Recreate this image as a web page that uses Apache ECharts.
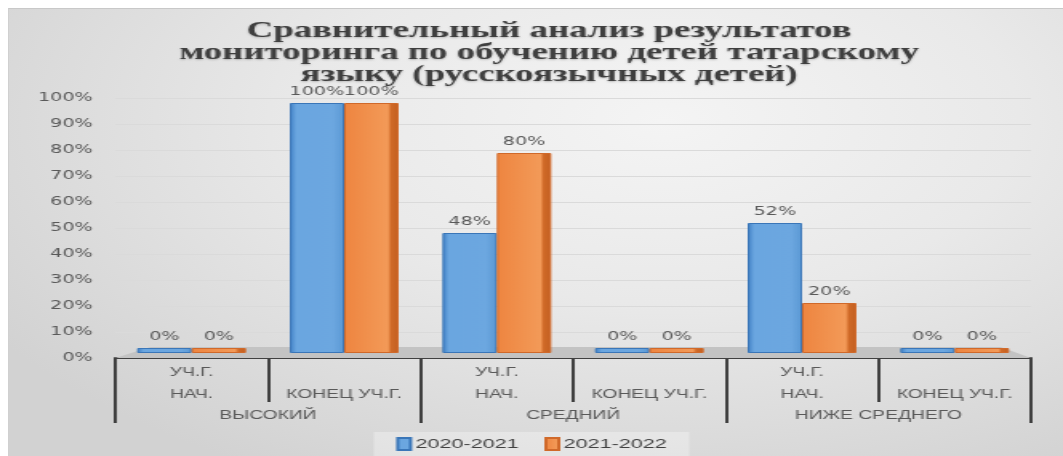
<!DOCTYPE html>
<html><head><meta charset="utf-8">
<script src="https://cdn.jsdelivr.net/npm/echarts/dist/echarts.min.js"></script>
<style>
html,body{margin:0;padding:0;background:#fff;width:1063px;height:456px;overflow:hidden;}
#panel{position:absolute;left:8px;top:8px;width:1055px;height:448px;
  background:radial-gradient(ellipse 75% 90% at 62% 25%, #f4f4f4 0%, #e9e9e9 45%, #d2d2d2 100%);
  border-top:1px solid #c8c8c8;border-left:1px solid #d0d0d0;}
#chart{position:absolute;left:0;top:0;width:664px;height:456px;transform:scaleX(1.6009);transform-origin:0 0;}
</style></head>
<body>
<div id="panel"></div>
<div id="chart"></div>
<script>
const titleText = 'Сравнительный анализ результатов\nмониторинга по обучению детей татарскому\nязыку (русскоязычных детей)';
const subCategories = ['УЧ.Г. НАЧ.', 'КОНЕЦ УЧ.Г.', 'УЧ.Г. НАЧ.', 'КОНЕЦ УЧ.Г.', 'УЧ.Г. НАЧ.', 'КОНЕЦ УЧ.Г.'];
const groups = ['ВЫСОКИЙ', 'СРЕДНИЙ', 'НИЖЕ СРЕДНЕГО'];
const seriesNames = ['2020-2021', '2021-2022'];
const values2020 = [0, 100, 48, 0, 52, 0];
const values2021 = [0, 100, 80, 0, 20, 0];

const chart = echarts.init(document.getElementById('chart'), null, {renderer: 'canvas'});
const G = {left: 72, right: 20};
const labelFont = 'DejaVu Sans';
const catFont = 'Liberation Sans';

function subLabel(v, i) {
  const s = subCategories[i];
  if (s.indexOf('НАЧ.') >= 0) return 'УЧ.Г.\nНАЧ.';
  return '\n' + s;
}

const option = {
  animation: false,
  title: {
    text: titleText, left: 338, top: 15,
    textAlign: 'center',
    textStyle: {fontFamily: 'Liberation Serif', fontWeight: 'bold', fontSize: 23, lineHeight: 22, color: '#3f3f3f',
      align: 'center',
      textShadowColor: 'rgba(0,0,0,0.22)', textShadowBlur: 2, textShadowOffsetY: 1}
  },
  legend: {
    data: seriesNames, top: 432, left: 'center',
    itemWidth: 8, itemHeight: 12, itemGap: 16, icon: 'rect',
    padding: [5, 14], backgroundColor: 'rgba(255,255,255,0.3)',
    textStyle: {fontFamily: catFont, fontSize: 13.5, color: '#404040', padding: [0, 0, 0, -2]}
  },
  grid: [
    {left: G.left, right: G.right, top: 98, bottom: 98},
    {left: G.left, right: G.right, top: 103, bottom: 103}
  ],
  xAxis: [
    {type: 'category', gridIndex: 0, data: subCategories, position: 'bottom',
      axisLine: {lineStyle: {color: '#404040', width: 2}},
      axisTick: {show: true, interval: 0, length: 44, lineStyle: {color: '#404040', width: 2}},
      axisLabel: {interval: 0, margin: 4, formatter: subLabel, lineHeight: 22, fontFamily: catFont, fontSize: 12, color: '#595959'}},
    {type: 'category', gridIndex: 0, data: groups, position: 'bottom',
      axisLine: {show: false},
      axisTick: {show: true, interval: 0, length: 65, lineStyle: {color: '#404040', width: 2}},
      axisLabel: {interval: 0, margin: 47, lineHeight: 22, fontFamily: catFont, fontSize: 12, color: '#595959'}},
    {type: 'category', gridIndex: 1, data: subCategories, show: false}
  ],
  yAxis: [
    {type: 'value', gridIndex: 0, min: 0, max: 100, interval: 10,
      axisLine: {show: false}, axisTick: {show: false},
      axisLabel: {formatter: '{value}%', margin: 14, fontFamily: labelFont, fontSize: 12, color: '#595959'},
      splitLine: {lineStyle: {color: '#dadada', width: 1}}},
    {type: 'value', gridIndex: 1, min: 0, max: 100, show: false, splitLine: {show: false}}
  ],
  graphic: [{
    type: 'polygon', z: 1,
    shape: {points: [[72, 358], [94, 347], [625, 347], [644, 358]]},
    style: {fill: '#c3c3c3'}
  }],
  series: [
    {name: seriesNames[0], type: 'bar', xAxisIndex: 2, yAxisIndex: 1, data: values2020,
      barWidth: 34, barGap: '0%', barMinHeight: 5, z: 3,
      itemStyle: {color: new echarts.graphic.LinearGradient(0, 0, 1, 0, [
        {offset: 0, color: '#3f7fc4'}, {offset: 0.12, color: '#6aa6e0'}, {offset: 0.8, color: '#6ca7e0'}, {offset: 1, color: '#5a98d4'}]),
        borderColor: '#3a76b8', borderWidth: 1},
      label: {show: true, position: 'top', distance: 5, formatter: '{c}%', fontFamily: labelFont, fontSize: 12, color: '#595959'}},
    {name: seriesNames[1], type: 'bar', xAxisIndex: 2, yAxisIndex: 1, data: values2021,
      barWidth: 34, barGap: '0%', barMinHeight: 5, z: 3,
      itemStyle: {color: new echarts.graphic.LinearGradient(0, 0, 1, 0, [
        {offset: 0, color: '#ee8540'}, {offset: 0.8, color: '#f39a58'}, {offset: 0.86, color: '#d06a28'}, {offset: 1, color: '#c25f20'}]),
        borderColor: '#d0692a', borderWidth: 1},
      label: {show: true, position: 'top', distance: 5, formatter: '{c}%', fontFamily: labelFont, fontSize: 12, color: '#595959'}}
  ],
  color: ['#5b9bd5', '#ed7d31']
};
chart.setOption(option);
</script>
</body></html>
